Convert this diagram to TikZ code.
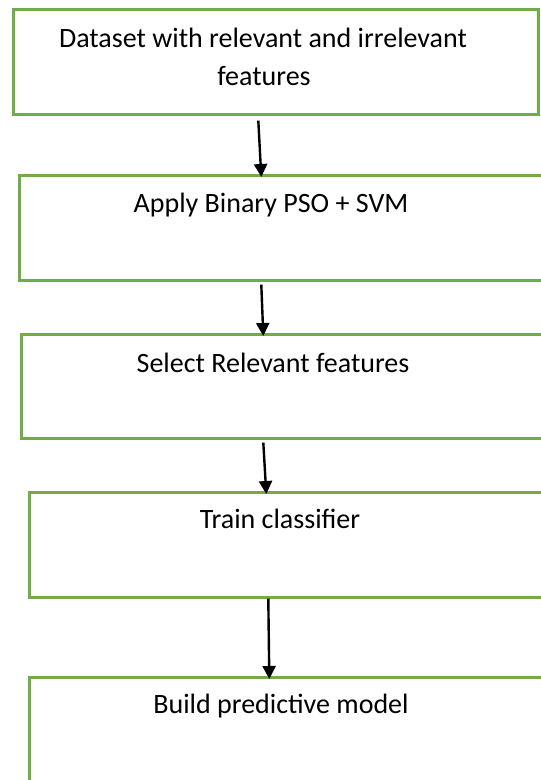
\documentclass[tikz,border=0pt]{standalone}
\usepackage{fontspec}
\setmainfont{Carlito}
\usetikzlibrary{arrows.meta}
\definecolor{boxgreen}{HTML}{70AD47}
\tikzset{
  box/.style={draw=boxgreen, line width=2.6pt, fill=white, rectangle, inner sep=0pt, anchor=north west},
  lbl/.style={anchor=base, inner sep=0pt, font=\fontsize{28}{34}\selectfont, text=black},
  arr/.style={draw=black, line width=2.4pt, -{Triangle[length=13pt,width=13pt]}}
}
\begin{document}
\begin{tikzpicture}[x=1pt,y=-1pt]
\useasboundingbox (0,0) rectangle (541,780);
\clip (0,0) rectangle (541,780);
\fill[white] (0,0) rectangle (541,780);
\node[box, minimum width=525pt, minimum height=105pt] (b1) at (12,8) {};
\node[box, minimum width=542pt, minimum height=105pt] (b2) at (18,174) {};
\node[box, minimum width=540pt, minimum height=104pt] (b3) at (20,333) {};
\node[box, minimum width=532pt, minimum height=105pt] (b4) at (28,491) {};
\node[box, minimum width=532pt, minimum height=114pt] (b5) at (28,676) {};

\node[lbl] (t1a) at (263,47) {Dataset with relevant and irrelevant};
\node[lbl] (t1b) at (264,85) {features};
\node[lbl] (t2) at (271,212) {Apply Binary PSO + SVM};
\node[lbl] (t3) at (273,372) {Select Relevant features};
\node[lbl] (t4) at (280,528) {Train classifier};
\node[lbl] (t5) at (281,713) {Build predictive model};

\draw[arr] ([xshift=-17.5pt,yshift=-5pt]b1.south) -- ([xshift=-29pt,yshift=-3pt]b2.north);
\draw[arr] ([xshift=-29pt,yshift=-3pt]b2.south) -- ([xshift=-28pt,yshift=-3pt]b3.north);
\draw[arr] ([xshift=-28pt,yshift=-3pt]b3.south) -- ([xshift=-29pt,yshift=-3pt]b4.north);
\draw[arr] ([xshift=-27pt,yshift=0pt]b4.south) -- ([xshift=-26pt,yshift=-3pt]b5.north);
\end{tikzpicture}
\end{document}
